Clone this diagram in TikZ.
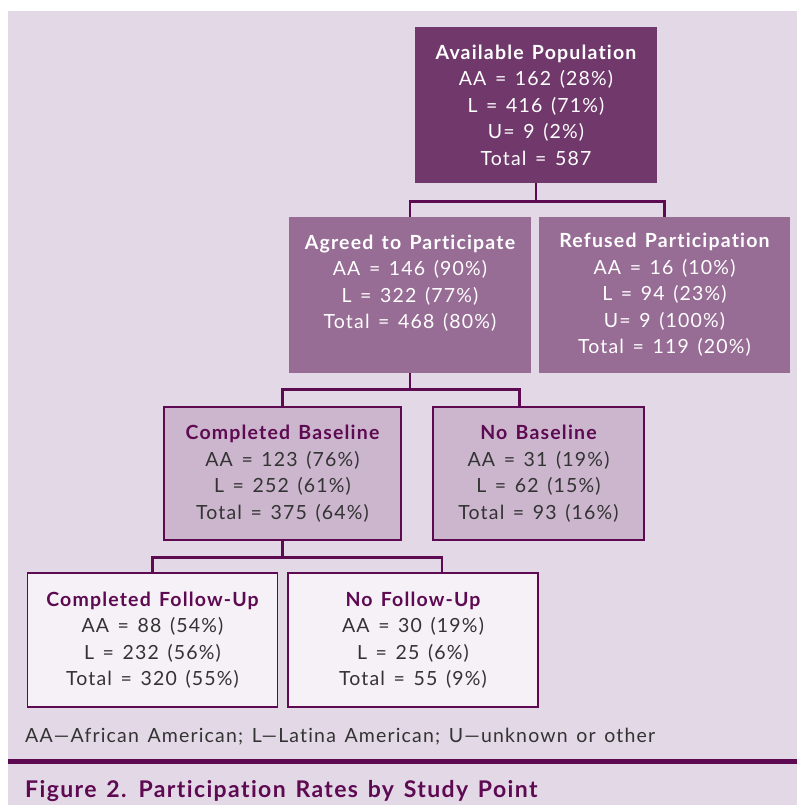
\documentclass[tikz,border=0pt]{standalone}
\usepackage{fontspec}
\setmainfont{Lato}[LetterSpace=6, WordSpace=1.4, Ligatures=NoCommon]
\usetikzlibrary{positioning}

\definecolor{pagebg}{HTML}{E3D8E6}
\definecolor{plumdark}{HTML}{70386B}
\definecolor{plummid}{HTML}{976C95}
\definecolor{plumlight}{HTML}{CBB6CD}
\definecolor{plumpale}{HTML}{F5F1F6}
\definecolor{plumline}{HTML}{5E0A52}
\definecolor{bodygray}{HTML}{333333}

\tikzset{
    stage/.style={rectangle, inner sep=0pt, align=center,
        font=\fontsize{19.5}{26.5}\selectfont},
    stagedark/.style={stage, fill=plumdark, text=white},
    stagemid/.style={stage, fill=plummid, text=white},
    stagelight/.style={stage, fill=plumlight, draw=plumline, line width=1.2pt, text=bodygray},
    stagepale/.style={stage, fill=plumpale, draw=plumline, line width=1.2pt, text=bodygray},
    conn/.style={draw=plumline, line width=2.6pt},
}
\newcommand{\stitle}[1]{{\bfseries\fontsize{19.5}{26.5}\selectfont #1}}
\newcommand{\dtitle}[1]{{\color{plumline}\stitle{#1}}}

\begin{document}
\begin{tikzpicture}[x=1pt, y=-1pt]
    \useasboundingbox (0,0) rectangle (797,805);
    \fill[pagebg] (8,11) rectangle (797,805);

    % study stages, top to bottom
    \node[stagedark, minimum width=242, minimum height=156] (avail) at (536,105)
        {\stitle{Available Population}\\ AA = 162 (28\%)\\ L = 416 (71\%)\\ U= 9 (2\%)\\ Total = 587};
    \node[stagemid, minimum width=242, minimum height=156] (agreed) at (410,295)
        {\stitle{Agreed to Participate}\\ AA = 146 (90\%)\\ L = 322 (77\%)\\ Total = 468 (80\%)\\ \phantom{X}};
    \node[stagemid, minimum width=251, minimum height=156] (refused) at (664.5,295)
        {\stitle{Refused Participation}\\ AA = 16 (10\%)\\ L = 94 (23\%)\\ U= 9 (100\%)\\ Total = 119 (20\%)};
    \node[stagelight, minimum width=237, minimum height=133] (cbase) at (282.5,473.5)
        {\dtitle{Completed Baseline}\\ AA = 123 (76\%)\\ L = 252 (61\%)\\ Total = 375 (64\%)};
    \node[stagelight, minimum width=211, minimum height=133] (nobase) at (538.5,473.5)
        {\dtitle{No Baseline}\\ AA = 31 (19\%)\\ L = 62 (15\%)\\ Total = 93 (16\%)};
    \node[stagepale, minimum width=250, minimum height=134] (cfu) at (152.5,640)
        {\dtitle{Completed Follow-Up}\\ AA = 88 (54\%)\\ L = 232 (56\%)\\ Total = 320 (55\%)};
    \node[stagepale, minimum width=250, minimum height=134] (nfu) at (413,640)
        {\dtitle{No Follow-Up}\\ AA = 30 (19\%)\\ L = 25 (6\%)\\ Total = 55 (9\%)};

    % elbow connectors
    \draw[conn] (avail.south) -- ++(0,18) coordinate (j1);
    \draw[conn] (agreed.north) |- (j1) -| (refused.north);
    \draw[conn] (agreed.south) -- ++(0,16) coordinate (j2);
    \draw[conn] (cbase.north) |- (j2) -| ([xshift=-19pt]nobase.north);
    \draw[conn] (cbase.south) -- ++(0,17) coordinate (j3);
    \draw[conn] (cfu.north) |- (j3) -| ([xshift=29pt]nfu.north);

    % key and caption
    \node[anchor=base west, inner sep=0pt, text=bodygray, font=\fontsize{19.5}{22}\selectfont]
        (key) at (25,742) {AA—African American; L—Latina American; U—unknown or other};
    \draw[plumline, line width=4.5pt] (8,761.5) -- (797,761.5);
    \node[anchor=base west, inner sep=0pt, text=plumline, font=\bfseries\fontsize{23}{28}\selectfont]
        (caption) at (25,797) {Figure 2. Participation Rates by Study Point};
\end{tikzpicture}
\end{document}
